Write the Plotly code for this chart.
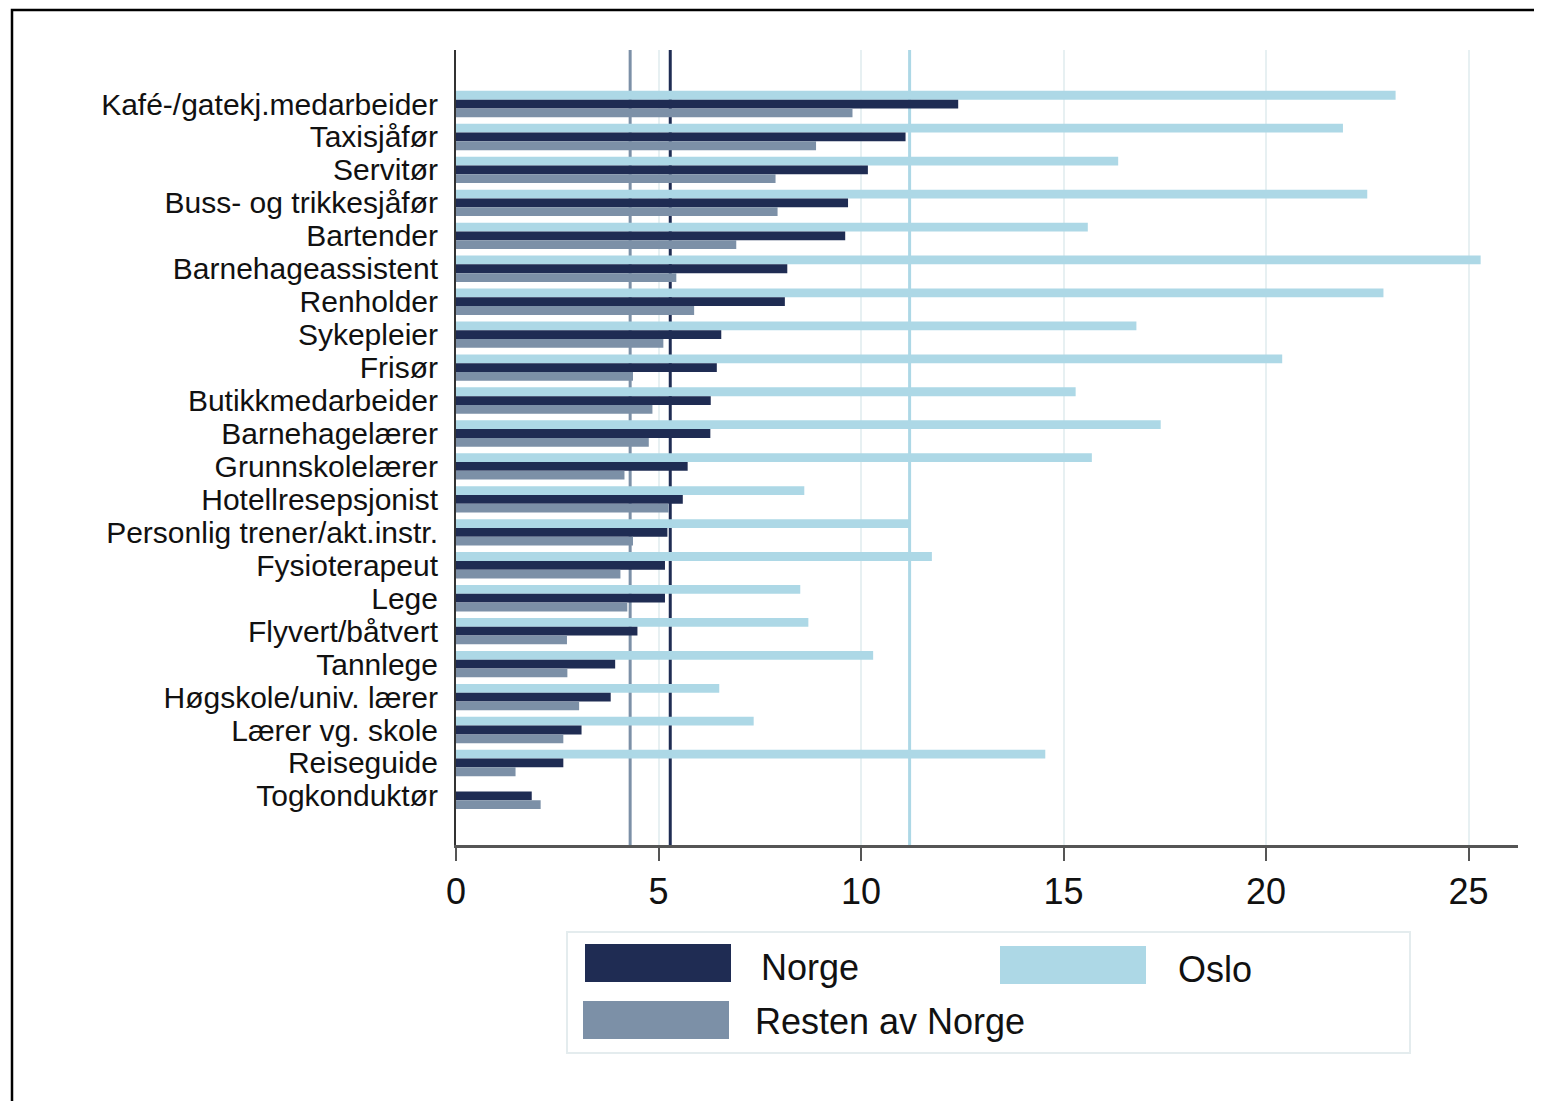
import plotly.graph_objects as go

categories = ["Kafé-/gatekj.medarbeider", "Taxisjåfør", "Servitør", "Buss- og trikkesjåfør",
              "Bartender", "Barnehageassistent", "Renholder", "Sykepleier", "Frisør",
              "Butikkmedarbeider", "Barnehagelærer", "Grunnskolelærer", "Hotellresepsjonist",
              "Personlig trener/akt.instr.", "Fysioterapeut", "Lege", "Flyvert/båtvert",
              "Tannlege", "Høgskole/univ. lærer", "Lærer vg. skole", "Reiseguide", "Togkonduktør"]

oslo = [23.2, 21.9, 16.35, 22.5, 15.6, 25.3, 22.9, 16.8, 20.4, 15.3, 17.4, 15.7,
        8.6, 11.2, 11.75, 8.5, 8.7, 10.3, 6.5, 7.35, 14.55, None]
norge = [12.4, 11.1, 10.17, 9.68, 9.61, 8.18, 8.12, 6.55, 6.44, 6.29, 6.28, 5.72,
         5.6, 5.22, 5.16, 5.16, 4.48, 3.93, 3.82, 3.1, 2.65, 1.87]
resten = [9.79, 8.89, 7.89, 7.94, 6.92, 5.44, 5.88, 5.12, 4.37, 4.85, 4.76, 4.16,
          5.25, 4.37, 4.06, 4.23, 2.74, 2.75, 3.04, 2.65, 1.47, 2.09]

avg_resten = 4.30
avg_norge = 5.29
avg_oslo = 11.2

x_ticks = [0, 5, 10, 15, 20, 25]

C_NORGE = "#1f2c53"
C_OSLO = "#add8e6"
C_RESTEN = "#7c90a7"
FONT = "Liberation Sans, Arial, sans-serif"
TXT = "#111111"

OFF = 8  # page body margin
W, H = 1542 - OFF, 1101 - OFF
PL, PR, PT, PB = 456, 1518, 50, 845  # plot area in page pixels
ML, MT = PL - OFF, PT - OFF
MR = (W + OFF) - PR
MB = (H + OFF) - PB
PW, PH = PR - PL, PB - PT


def px(p):
    return (p - PL) / PW


def py(p):
    return (PB - p) / PH


fig = go.Figure()
for name, vals, col in [("Oslo", oslo, C_OSLO), ("Norge", norge, C_NORGE), ("Resten av Norge", resten, C_RESTEN)]:
    fig.add_trace(go.Bar(y=categories, x=vals, orientation="h", name=name,
                         marker=dict(color=col, line=dict(width=0)), showlegend=False))

shapes = []
for v, col in [(avg_resten, C_RESTEN), (avg_norge, C_NORGE), (avg_oslo, C_OSLO)]:
    shapes.append(dict(type="line", xref="x", yref="paper", x0=v, x1=v, y0=0, y1=1,
                       line=dict(color=col, width=3), layer="between"))

# outer frame
shapes.append(dict(type="rect", xref="paper", yref="paper", x0=px(12), x1=px(1560),
                   y0=py(1120), y1=py(10), line=dict(color="black", width=2.5),
                   fillcolor="rgba(0,0,0,0)", layer="above"))

# legend box
shapes.append(dict(type="rect", xref="paper", yref="paper", x0=px(567), x1=px(1410),
                   y0=py(1053), y1=py(932), line=dict(color="#e4ecee", width=2),
                   fillcolor="rgba(0,0,0,0)"))
legend_items = [
    ("Norge", C_NORGE, (585, 731, 944, 982), (759, 967)),
    ("Oslo", C_OSLO, (1000, 1146, 946, 984), (1176, 969)),
    ("Resten av Norge", C_RESTEN, (583, 729, 1001, 1039), (753, 1021)),
]
annotations = []
for label, col, (x0, x1, y0, y1), (tx, ty) in legend_items:
    shapes.append(dict(type="rect", xref="paper", yref="paper", x0=px(x0), x1=px(x1),
                       y0=py(y1), y1=py(y0), line=dict(width=0), fillcolor=col))
    annotations.append(dict(xref="paper", yref="paper", x=px(tx), y=py(ty), text=label,
                            showarrow=False, xanchor="left", yanchor="middle",
                            font=dict(family=FONT, size=36, color=TXT)))

fig.update_layout(
    width=W, height=H,
    margin=dict(l=ML, r=MR, t=MT, b=MB),
    paper_bgcolor="white", plot_bgcolor="white",
    barmode="group", bargap=0.2, bargroupgap=0,
    shapes=shapes, annotations=annotations,
    showlegend=False,
    xaxis=dict(range=[0, (PR - PL) / 40.5], tickvals=x_ticks,
               ticktext=[str(t) for t in x_ticks],
               showgrid=True, gridcolor="#e7f0f2", gridwidth=2, zeroline=False,
               showline=True, linecolor="#555555", linewidth=2.5,
               ticks="outside", ticklen=13, tickwidth=2, tickcolor="#555555",
               tickfont=dict(family=FONT, size=36, color=TXT)),
    yaxis=dict(categoryorder="array", categoryarray=categories,
               tickmode="array", tickvals=categories, ticktext=categories,
               range=[len(categories) - 1 + 1.49, -1.64],
               showgrid=False, zeroline=False, showline=True, linecolor="#333333", linewidth=2,
               ticks="", ticklabelstandoff=10,
               tickfont=dict(family=FONT, size=30, color=TXT)),
)

fig.write_html("out.html")
